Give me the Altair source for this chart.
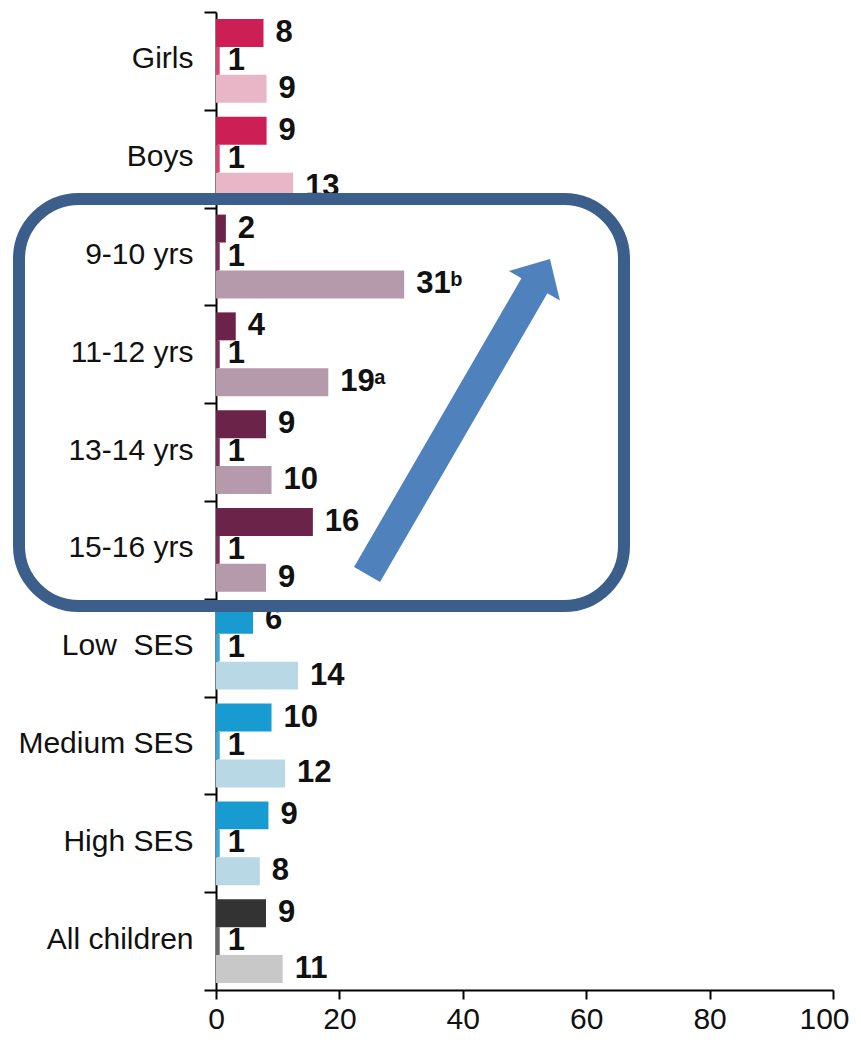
import altair as alt
import pandas as pd

# ---- data ----
groups = ["Girls", "Boys", "9-10 yrs", "11-12 yrs", "13-14 yrs", "15-16 yrs",
          "Low\u00a0 SES", "Medium SES", "High SES", "All children"]
family = ["gender", "gender", "age", "age", "age", "age", "ses", "ses", "ses", "all"]
series = ["s1", "s2", "s3"]

vals_s1 = [7.7, 8.2, 1.6, 3.2, 8.1, 15.7, 6.0, 9.0, 8.5, 8.1]
vals_s2 = [0.6, 0.6, 0.6, 0.6, 0.6, 0.6, 0.6, 0.6, 0.6, 0.6]
vals_s3 = [8.2, 12.5, 30.5, 18.2, 9.0, 8.1, 13.3, 11.2, 7.1, 10.8]

labels_s1 = ["8", "9", "2", "4", "9", "16", "6", "10", "9", "9"]
labels_s2 = ["1", "1", "1", "1", "1", "1", "1", "1", "1", "1"]
labels_s3 = ["9", "13", "31", "19", "10", "9", "14", "12", "8", "11"]
sup_s3 = ["", "", "b", "a", "", "", "", "", "", ""]

x_ticks = [0, 20, 40, 60, 80, 100]

color_keys = ["gender-s1", "gender-s2", "gender-s3",
              "age-s1", "age-s2", "age-s3",
              "ses-s1", "ses-s2", "ses-s3",
              "all-s1", "all-s2", "all-s3"]
color_vals = ["#cc1f56", "#d9436f", "#e8b6c6",
              "#6b2349", "#7b2e58", "#b59aab",
              "#179bd0", "#3aa8d4", "#b8d8e5",
              "#333333", "#666666", "#c8c8c8"]

rows = []
for i, g in enumerate(groups):
    for s, vals, labs in (("s1", vals_s1, labels_s1),
                          ("s2", vals_s2, labels_s2),
                          ("s3", vals_s3, labels_s3)):
        rows.append({
            "group": g, "series": s, "val": vals[i], "lab": labs[i],
            "sup": sup_s3[i] if s == "s3" else "",
            "ckey": f"{family[i]}-{s}",
        })
df = pd.DataFrame(rows)

FONT = "Liberation Sans"

y_enc = alt.Y("group:N", sort=groups,
              scale=alt.Scale(paddingInner=0, paddingOuter=0),
              axis=alt.Axis(title=None, tickBand="extent", tickSize=12,
                            labelPadding=11, labelOffset=-2, labelLimit=400,
                            domainWidth=2, tickWidth=2))
yoff_enc = alt.YOffset("series:N", sort=series,
                       scale=alt.Scale(paddingInner=0, paddingOuter=0.25))
x_enc = alt.X("val:Q", scale=alt.Scale(domain=[0, 100], nice=False),
              axis=alt.Axis(title=None, values=x_ticks,
                            tickSize=9, labelPadding=5, grid=False,
                            labelFlush=False, domainWidth=2, tickWidth=2,
                            labelOffset={"condition": {"test": "datum.value == 100",
                                                       "value": -9},
                                         "value": 0}))

base = alt.Chart(df).encode(y=y_enc, yOffset=yoff_enc, x=x_enc)

bars = base.mark_bar().encode(
    color=alt.Color("ckey:N", scale=alt.Scale(domain=color_keys, range=color_vals),
                    legend=None)
)

labels_main = base.transform_filter(alt.datum.series != "s2").mark_text(
    align="left", baseline="middle", dx=12, font=FONT, fontSize=31,
    fontWeight="bold", color="#111111"
).encode(text="lab:N")

labels_mid = base.transform_filter(alt.datum.series == "s2").mark_text(
    align="left", baseline="middle", dx=8, font=FONT, fontSize=31,
    fontWeight="bold", color="#111111"
).encode(text="lab:N")

sups = base.transform_filter(alt.datum.sup != "").mark_text(
    align="left", baseline="alphabetic", dx=46, dy=2, font=FONT, fontSize=20,
    fontWeight="bold", color="#111111"
).encode(text="sup:N")

one = pd.DataFrame({"k": [1]})

box = alt.Chart(one).mark_rect(
    cornerRadius=60, stroke="#3b5e8b", strokeWidth=12, fillOpacity=0
).encode(x=alt.value(-197), x2=alt.value(408), y=alt.value(187), y2=alt.value(594))

arrow_path = ("M -0.0823 1 L -0.0823 -0.83 L -0.1618 -0.83 L 0 -1 "
              "L 0.1618 -0.83 L 0.0823 -0.83 L 0.0823 1 Z")
arrow = alt.Chart(one).mark_point(
    shape=arrow_path, filled=True, color="#4f81bd", strokeWidth=0,
    opacity=1, size=364.7 ** 2, angle=30.1
).encode(x=alt.value(242.5), y=alt.value(404.75))

chart = alt.layer(bars, labels_main, labels_mid, sups, box, arrow).properties(
    width=617, height=978,
    padding={"left": 208, "top": 4, "right": 20, "bottom": 45},
    autosize=alt.AutoSizeParams(type="none"),
).configure_view(stroke=None).configure_axis(
    labelFont=FONT, labelFontSize=30, labelColor="#111111",
    domainColor="#000000", tickColor="#000000"
)

chart.save("out.html", embed_options={"renderer": "svg", "actions": False})
